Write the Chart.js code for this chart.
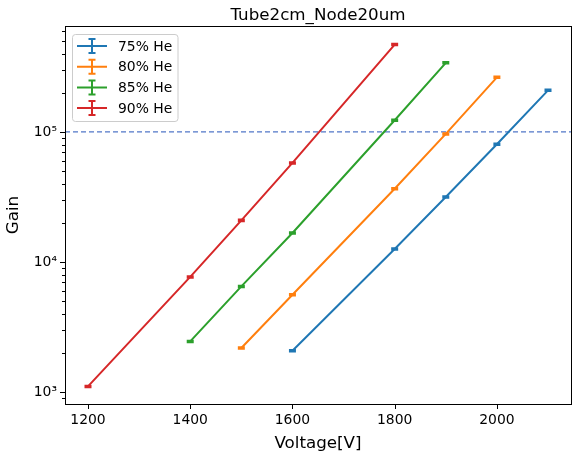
<!DOCTYPE html>
<html>
<head>
<meta charset="utf-8">
<script src="https://cdn.jsdelivr.net/npm/chart.js@4/dist/chart.umd.min.js"></script>
<style>
html,body{margin:0;padding:0;background:#fff;}
#wrap{width:574px;height:454px;position:relative;}
</style>
</head>
<body>
<div id="wrap"><canvas id="c" width="574" height="454"></canvas></div>
<script>
// ---- data ----
const seriesLabels = ['75% He', '80% He', '85% He', '90% He'];
const seriesColors = ['#1f77b4', '#ff7f0e', '#2ca02c', '#d62728'];

const volt75 = [1600, 1800, 1900, 2000, 2100];
const gain75 = [2080, 12600, 31600, 80400, 209000];
const err75  = [28, 170, 420, 1070, 2800];

const volt80 = [1500, 1600, 1800, 1900, 2000];
const gain80 = [2180, 5600, 36600, 96600, 263000];
const err80  = [29, 75, 490, 1300, 3500];

const volt85 = [1400, 1500, 1600, 1800, 1900];
const gain85 = [2450, 6490, 16700, 123000, 340000];
const err85  = [33, 87, 220, 1650, 4500];

const volt90 = [1200, 1400, 1500, 1600, 1800];
const gain90 = [1105, 7680, 20900, 57800, 470000];
const err90  = [15, 100, 280, 770, 6300];

const refGain = 100000;               // dashed reference line
const xTicks = [1200, 1400, 1600, 1800, 2000];
const xMin = 1155, xMax = 2145;
const yMin = 809, yMax = 653000;
const yMajorTicks = [1000, 10000, 100000];
const yMajorLabels = ['10³', '10⁴', '10⁵'];
const yMinorTicks = [900, 2000, 3000, 4000, 5000, 6000, 7000, 8000, 9000,
  20000, 30000, 40000, 50000, 60000, 70000, 80000, 90000,
  200000, 300000, 400000, 500000, 600000];

const titleText = 'Tube2cm_Node20um';
const xLabel = 'Voltage[V]';
const yLabel = 'Gain';

const FONT = "'DejaVu Sans', sans-serif";

function pts(xs, ys) { return xs.map((x, i) => ({x: x, y: ys[i]})); }

const allVolts = [volt75, volt80, volt85, volt90];
const allGains = [gain75, gain80, gain85, gain90];
const allErrs = [err75, err80, err85, err90];

const datasets = seriesLabels.map((lab, i) => ({
  label: lab,
  data: pts(allVolts[i], allGains[i]),
  errors: allErrs[i],
  borderColor: seriesColors[i],
  backgroundColor: seriesColors[i],
  borderWidth: 2,
  pointRadius: 0,
  showLine: true,
  tension: 0,
  order: 1
}));
datasets.push({
  label: '_ref',
  data: [{x: xMin, y: refGain}, {x: xMax, y: refGain}],
  borderColor: '#5177c8',
  borderWidth: 1.3,
  borderDash: [5, 3],
  pointRadius: 0,
  showLine: true,
  order: 2,
  isRef: true
});

const errorBarPlugin = {
  id: 'errbars',
  afterDatasetsDraw(chart) {
    const ctx = chart.ctx, xs = chart.scales.x, ys = chart.scales.y;
    ctx.save();
    chart.data.datasets.forEach(ds => {
      if (!ds.errors) return;
      ctx.strokeStyle = ds.borderColor;
      ctx.lineWidth = 2;
      ds.data.forEach((p, i) => {
        const e = ds.errors[i];
        const px = xs.getPixelForValue(p.x);
        const y1 = ys.getPixelForValue(p.y - e);
        const y2 = ys.getPixelForValue(p.y + e);
        ctx.beginPath();
        ctx.moveTo(px, y1); ctx.lineTo(px, y2);
        ctx.moveTo(px - 3.5, y1); ctx.lineTo(px + 3.5, y1);
        ctx.moveTo(px - 3.5, y2); ctx.lineTo(px + 3.5, y2);
        ctx.stroke();
      });
    });
    ctx.restore();
  }
};

const framePlugin = {
  id: 'frame',
  afterDraw(chart) {
    const ctx = chart.ctx, a = chart.chartArea;
    const xs = chart.scales.x, ys = chart.scales.y;
    ctx.save();
    ctx.strokeStyle = '#000';
    ctx.lineWidth = 1;
    // tick marks
    ctx.beginPath();
    xTicks.forEach(v => {
      const px = Math.round(xs.getPixelForValue(v)) + 0.5;
      ctx.moveTo(px, a.bottom); ctx.lineTo(px, a.bottom + 5);
    });
    yMajorTicks.forEach(v => {
      const py = Math.round(ys.getPixelForValue(v)) + 0.5;
      ctx.moveTo(a.left, py); ctx.lineTo(a.left - 5, py);
    });
    yMinorTicks.forEach(v => {
      if (v < yMin || v > yMax) return;
      const py = Math.round(ys.getPixelForValue(v)) + 0.5;
      ctx.moveTo(a.left, py); ctx.lineTo(a.left - 3, py);
    });
    ctx.stroke();
    // spines
    ctx.strokeRect(Math.round(a.left) + 0.5, Math.round(a.top) + 0.5,
      Math.round(a.right - a.left), Math.round(a.bottom - a.top));
    // title
    ctx.fillStyle = '#000';
    ctx.font = '16.7px ' + FONT;
    ctx.textAlign = 'center';
    ctx.textBaseline = 'alphabetic';
    ctx.fillText(titleText, (a.left + a.right) / 2, 20);
    // legend
    const lx = 72.5, ly = 34.5, lw = 105.5, lh = 87;
    ctx.fillStyle = 'rgba(255,255,255,0.8)';
    ctx.strokeStyle = '#cccccc';
    ctx.beginPath();
    ctx.roundRect(lx, ly, lw, lh, 3);
    ctx.fill(); ctx.stroke();
    const dsList = chart.data.datasets.filter(d => !d.isRef);
    dsList.forEach((ds, i) => {
      const cy = 46 + i * 20.7;
      ctx.strokeStyle = ds.borderColor;
      ctx.lineWidth = 2;
      ctx.beginPath();
      ctx.moveTo(77, cy); ctx.lineTo(107, cy);
      ctx.moveTo(92, cy - 7); ctx.lineTo(92, cy + 7);
      ctx.moveTo(88.5, cy - 7); ctx.lineTo(95.5, cy - 7);
      ctx.moveTo(88.5, cy + 7); ctx.lineTo(95.5, cy + 7);
      ctx.stroke();
      ctx.fillStyle = '#000';
      ctx.font = '13.9px ' + FONT;
      ctx.textAlign = 'left';
      ctx.textBaseline = 'middle';
      ctx.fillText(ds.label, 118, cy + 1);
    });
    ctx.restore();
  }
};

new Chart(document.getElementById('c'), {
  type: 'scatter',
  data: { datasets: datasets },
  options: {
    responsive: false,
    animation: false,
    devicePixelRatio: 1,
    layout: { padding: { top: 26, right: 3, left: 0, bottom: 0 } },
    plugins: { legend: { display: false }, tooltip: { enabled: false }, title: { display: false } },
    scales: {
      x: {
        type: 'linear',
        min: xMin, max: xMax,
        afterBuildTicks(s) { s.ticks = xTicks.map(v => ({value: v})); },
        afterFit(s) { s.height = 50; },
        grid: { display: false, drawTicks: true, tickLength: 5 },
        border: { display: false },
        ticks: { color: '#000', font: { family: FONT, size: 13.9 }, padding: 3, maxRotation: 0, autoSkip: false,
          callback: v => String(v) },
        title: { display: true, text: xLabel, color: '#000', font: { family: FONT, size: 16.7 }, padding: { top: 0, bottom: 0 } }
      },
      y: {
        type: 'logarithmic',
        min: yMin, max: yMax,
        afterBuildTicks(s) { s.ticks = yMajorTicks.map(v => ({value: v, major: true})); },
        afterFit(s) { s.width = 65; },
        grid: { display: false, drawTicks: true, tickLength: 5 },
        border: { display: false },
        ticks: { color: '#000', font: { family: FONT, size: 13.9 }, padding: 3, autoSkip: false,
          callback: (v) => { const k = yMajorTicks.indexOf(v); return k >= 0 ? yMajorLabels[k] : ''; } },
        title: { display: true, text: yLabel, color: '#000', font: { family: FONT, size: 16.7 }, padding: { top: 4, bottom: 0 } }
      }
    }
  },
  plugins: [errorBarPlugin, framePlugin]
});
</script>
</body>
</html>
